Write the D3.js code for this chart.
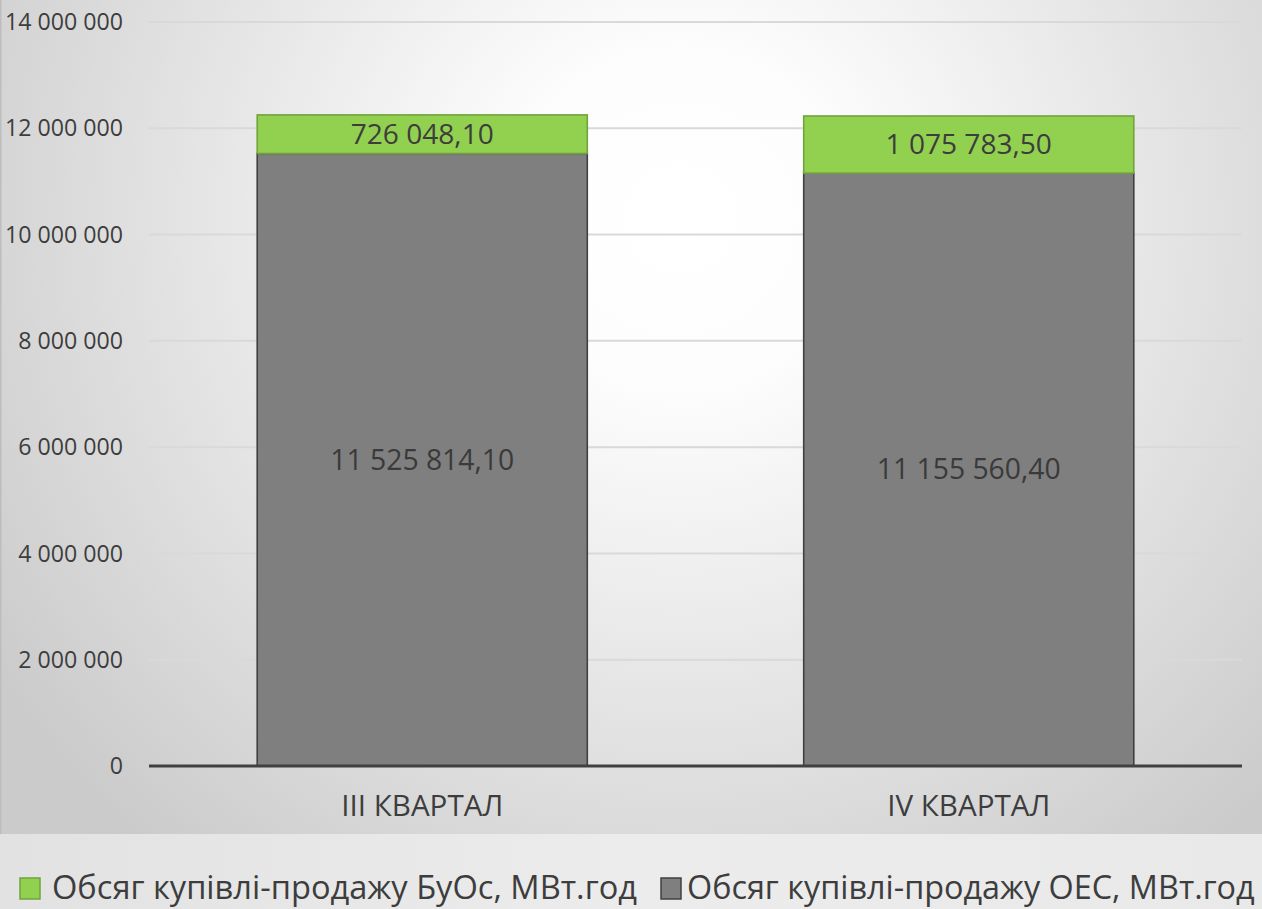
<!DOCTYPE html>
<html>
<head>
<meta charset="utf-8">
<script src="https://cdn.jsdelivr.net/npm/d3@7"></script>
<style>
  html, body { margin: 0; padding: 0; background: #fff; }
  svg { display: block; }
  text { font-family: "Open Sans", "Noto Sans", sans-serif; }
</style>
</head>
<body>
<svg id="chart" width="1262" height="909"></svg>
<script>
// ---- data ----
const categories = ["III КВАРТАЛ", "IV КВАРТАЛ"];
const seriesNames = ["Обсяг купівлі-продажу ОЕС, МВт.год", "Обсяг купівлі-продажу БуОс, МВт.год"];
const oesValues = [11525814.10, 11155560.40];
const buosValues = [726048.10, 1075783.50];
const oesLabels = ["11 525 814,10", "11 155 560,40"];
const buosLabels = ["726 048,10", "1 075 783,50"];
const yTicks = [0, 2000000, 4000000, 6000000, 8000000, 10000000, 12000000, 14000000];
const legendOrder = [1, 0];

// ---- layout ----
const W = 1262, H = 909;
const plot = { left: 149, right: 1242, top: 22, bottom: 766 };
const colors = { oes: "#7f7f7f", oesStroke: "#404040", buos: "#92d050", buosStroke: "#73a33c" };
const textColor = "#3d3d3d";

const svg = d3.select("#chart");
const defs = svg.append("defs");

const rg = defs.append("radialGradient").attr("id", "bg")
  .attr("gradientUnits", "userSpaceOnUse")
  .attr("cx", 680).attr("cy", 220).attr("r", 820);
rg.append("stop").attr("offset", 0).attr("stop-color", "#ffffff");
rg.append("stop").attr("offset", 0.2).attr("stop-color", "#fdfdfd");
rg.append("stop").attr("offset", 1).attr("stop-color", "#cbcbcb");

const lg = defs.append("linearGradient").attr("id", "legbg")
  .attr("x1", 0).attr("x2", 1).attr("y1", 0).attr("y2", 0);
lg.append("stop").attr("offset", 0).attr("stop-color", "#e2e2e2");
lg.append("stop").attr("offset", 0.5).attr("stop-color", "#ececec");
lg.append("stop").attr("offset", 1).attr("stop-color", "#e9e9e9");

svg.append("rect").attr("x", 0).attr("y", 0).attr("width", W).attr("height", 834).attr("fill", "url(#bg)");
svg.append("rect").attr("x", 0).attr("y", 834).attr("width", W).attr("height", H - 834).attr("fill", "url(#legbg)");
svg.append("line").attr("x1", 0.75).attr("x2", 0.75).attr("y1", 0).attr("y2", 834)
  .attr("stroke", "#bdbdbd").attr("stroke-width", 1.5);

// helper: font size that makes a sample string span a target width
function fitSize(sel, target) {
  const node = sel.node();
  sel.attr("font-size", 100);
  const w = node.getComputedTextLength();
  return +(100 * target / w).toFixed(2);
}

// ---- scales ----
const x = d3.scaleBand().domain(categories).range([plot.left, plot.right]).paddingInner(0.396).paddingOuter(0.198);
const y = d3.scaleLinear().domain([0, 14000000]).range([plot.bottom, plot.top]);

// gridlines
svg.append("g").selectAll("line").data(yTicks.filter(d => d > 0)).join("line")
  .attr("x1", plot.left).attr("x2", plot.right)
  .attr("y1", d => y(d)).attr("y2", d => y(d))
  .attr("stroke", "#d9d9d9").attr("stroke-width", 2);

// y tick labels
const fmt = d => d3.format(",")(d).replace(/,/g, " ");
const yl = svg.append("g").selectAll("text").data(yTicks).join("text")
  .attr("x", 123).attr("y", d => y(d)).attr("dy", "0.35em")
  .attr("text-anchor", "end").attr("fill", textColor)
  .text(fmt);
const ySize = fitSize(yl.filter(d => d === 14000000), 118);
yl.attr("font-size", ySize);

// stacked bars
const stackData = categories.map((c, i) => ({ cat: c, oes: oesValues[i], buos: buosValues[i] }));
const stacked = d3.stack().keys(["oes", "buos"])(stackData);
const fills = { oes: colors.oes, buos: colors.buos };
const strokes = { oes: colors.oesStroke, buos: colors.buosStroke };

stacked.forEach(layer => {
  svg.append("g").selectAll("rect").data(layer).join("rect")
    .attr("x", d => x(d.data.cat))
    .attr("width", x.bandwidth())
    .attr("y", d => y(d[1]))
    .attr("height", d => y(d[0]) - y(d[1]))
    .attr("fill", fills[layer.key])
    .attr("stroke", strokes[layer.key])
    .attr("stroke-width", 1.6);
});

// axis line
svg.append("line").attr("x1", plot.left).attr("x2", plot.right)
  .attr("y1", y(0)).attr("y2", y(0))
  .attr("stroke", "#404040").attr("stroke-width", 3);

// data labels
const ol = svg.append("g").selectAll("text").data(stacked[0]).join("text")
  .attr("x", d => x(d.data.cat) + x.bandwidth() / 2)
  .attr("y", d => (y(d[0]) + y(d[1])) / 2).attr("dy", "0.35em")
  .attr("text-anchor", "middle").attr("fill", "#3a3a3a")
  .text((d, i) => oesLabels[i]);
ol.attr("font-size", fitSize(ol.filter((d, i) => i === 0), 184));

const bl = svg.append("g").selectAll("text").data(stacked[1]).join("text")
  .attr("x", d => x(d.data.cat) + x.bandwidth() / 2)
  .attr("y", d => (y(d[0]) + y(d[1])) / 2).attr("dy", "0.35em")
  .attr("text-anchor", "middle").attr("fill", textColor)
  .text((d, i) => buosLabels[i]);
bl.attr("font-size", fitSize(bl.filter((d, i) => i === 0), 143));

// category labels
const cl = svg.append("g").selectAll("text").data(categories).join("text")
  .attr("x", d => x(d) + x.bandwidth() / 2)
  .attr("y", 806).attr("dy", "0.35em")
  .attr("text-anchor", "middle").attr("fill", textColor)
  .text(d => d);
cl.attr("font-size", fitSize(cl.filter((d, i) => i === 0), 162));

// legend
const legendItems = [
  { name: seriesNames[legendOrder[0]], fill: colors.buos, stroke: colors.buosStroke, sx: 20, tx: 52, tw: 585 },
  { name: seriesNames[legendOrder[1]], fill: colors.oes, stroke: colors.oesStroke, sx: 661, tx: 687, tw: 568 }
];
const lgG = svg.append("g");
legendItems.forEach(it => {
  lgG.append("rect").attr("x", it.sx).attr("y", 878).attr("width", 20).attr("height", 21)
    .attr("fill", it.fill).attr("stroke", it.stroke).attr("stroke-width", 1.5);
  const t = lgG.append("text").attr("x", it.tx).attr("y", 888).attr("dy", "0.35em")
    .attr("fill", textColor).text(it.name);
  t.attr("font-size", fitSize(t, it.tw));
});
</script>
</body>
</html>
